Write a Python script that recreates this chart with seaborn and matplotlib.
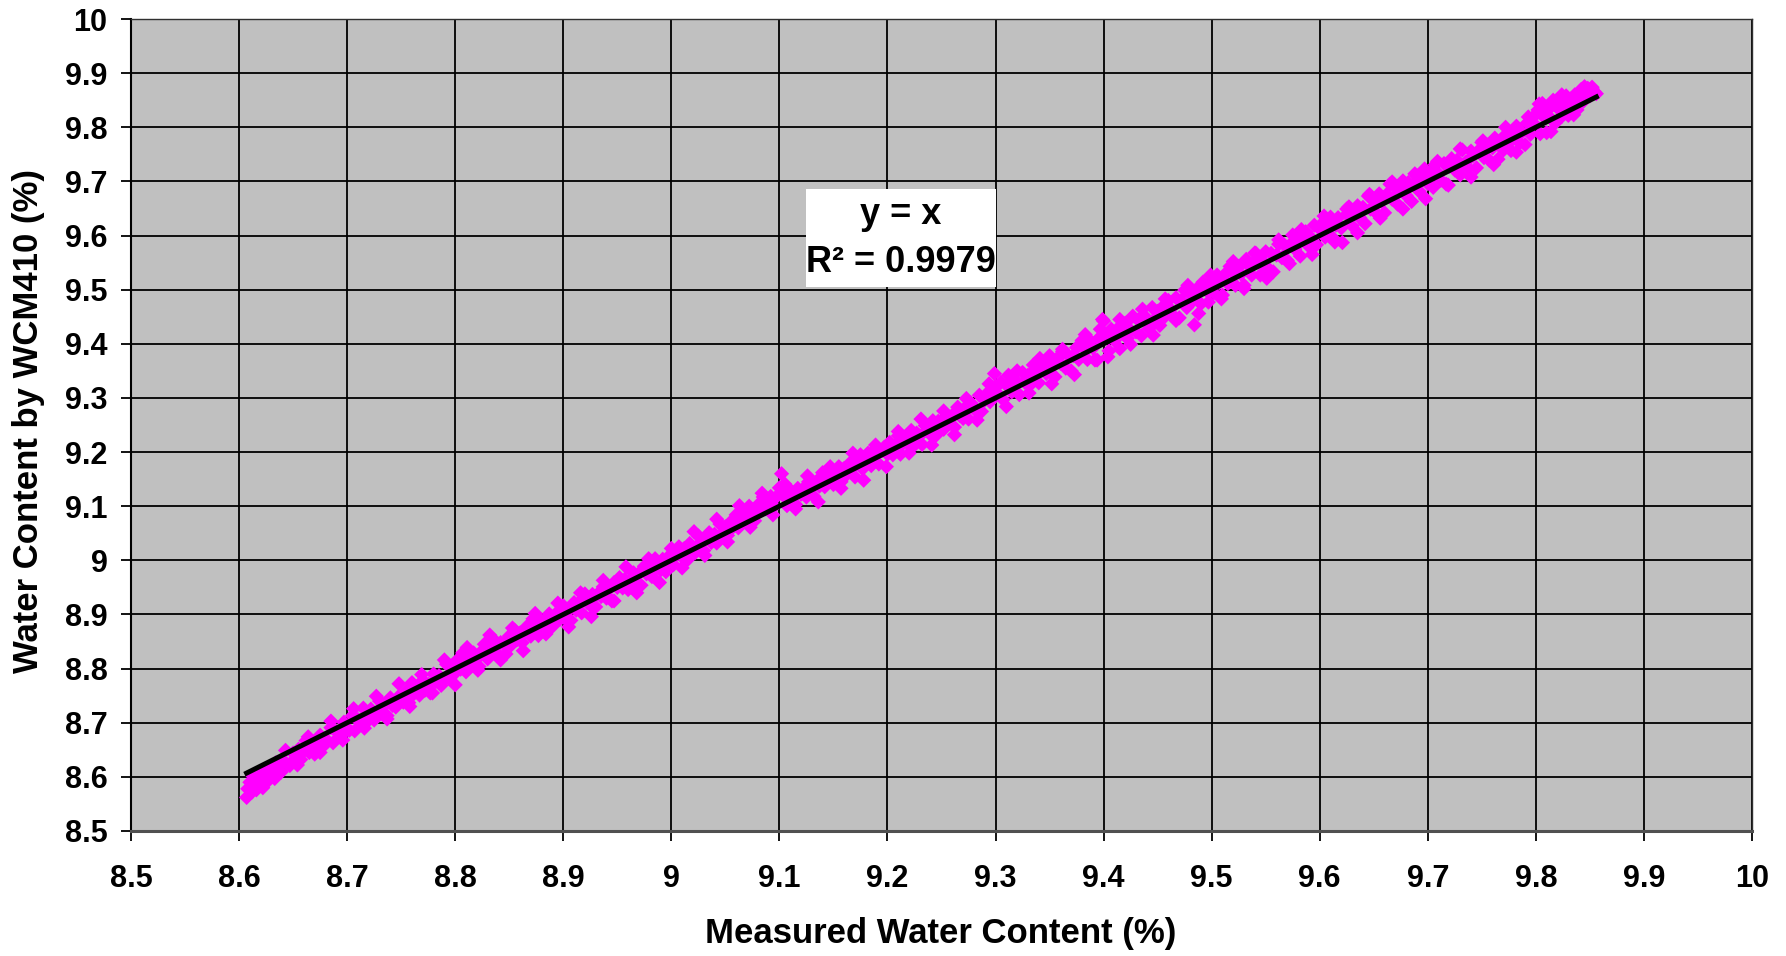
import matplotlib
matplotlib.use('Agg')
import matplotlib.pyplot as plt
import seaborn as sns
import pandas as pd
from matplotlib.patches import Rectangle

# ---- data ----
# core of the point cloud
measured = [
    8.607, 8.608, 8.610, 8.611, 8.613, 8.615, 8.616, 8.618, 8.620, 8.622, 8.624, 8.626, 8.629, 8.631, 8.634, 8.636, 8.639, 8.641, 8.644, 8.647, 8.650,
    8.652, 8.655, 8.657, 8.660, 8.662, 8.665, 8.667, 8.670, 8.672, 8.675, 8.677, 8.680, 8.682, 8.685, 8.687, 8.690, 8.692, 8.695, 8.697, 8.700,
    8.702, 8.705, 8.707, 8.710, 8.712, 8.715, 8.717, 8.720, 8.722, 8.725, 8.727, 8.730, 8.732, 8.735, 8.737, 8.740, 8.742, 8.745, 8.747, 8.750,
    8.752, 8.755, 8.757, 8.760, 8.762, 8.765, 8.767, 8.770, 8.772, 8.775, 8.777, 8.780, 8.782, 8.785, 8.787, 8.790, 8.792, 8.795, 8.797, 8.800,
    8.802, 8.805, 8.807, 8.810, 8.812, 8.815, 8.817, 8.820, 8.822, 8.825, 8.827, 8.830, 8.832, 8.835, 8.837, 8.840, 8.842, 8.845, 8.847, 8.850,
    8.852, 8.855, 8.857, 8.860, 8.862, 8.865, 8.867, 8.870, 8.872, 8.875, 8.877, 8.880, 8.882, 8.885, 8.887, 8.890, 8.892, 8.895, 8.897, 8.900,
    8.902, 8.905, 8.907, 8.910, 8.912, 8.915, 8.917, 8.920, 8.922, 8.925, 8.927, 8.930, 8.932, 8.935, 8.937, 8.940, 8.942, 8.945, 8.947, 8.950,
    8.952, 8.955, 8.957, 8.960, 8.962, 8.965, 8.967, 8.970, 8.972, 8.975, 8.977, 8.980, 8.982, 8.985, 8.987, 8.990, 8.992, 8.995, 8.997, 9.000,
    9.002, 9.005, 9.007, 9.010, 9.012, 9.015, 9.017, 9.020, 9.022, 9.025, 9.027, 9.030, 9.032, 9.035, 9.037, 9.040, 9.042, 9.045, 9.047, 9.050,
    9.052, 9.055, 9.057, 9.060, 9.062, 9.065, 9.067, 9.070, 9.072, 9.075, 9.077, 9.080, 9.082, 9.085, 9.087, 9.090, 9.092, 9.095, 9.097, 9.100,
    9.102, 9.105, 9.107, 9.110, 9.112, 9.115, 9.117, 9.120, 9.122, 9.125, 9.127, 9.130, 9.132, 9.135, 9.137, 9.140, 9.142, 9.145, 9.147, 9.150,
    9.152, 9.155, 9.157, 9.160, 9.162, 9.165, 9.167, 9.170, 9.172, 9.175, 9.177, 9.180, 9.182, 9.185, 9.187, 9.190, 9.192, 9.195, 9.197, 9.200,
    9.202, 9.205, 9.207, 9.210, 9.212, 9.215, 9.217, 9.220, 9.222, 9.225, 9.227, 9.230, 9.232, 9.235, 9.237, 9.240, 9.242, 9.245, 9.247, 9.250,
    9.252, 9.255, 9.257, 9.260, 9.262, 9.265, 9.267, 9.270, 9.272, 9.275, 9.277, 9.280, 9.282, 9.285, 9.287, 9.290, 9.292, 9.295, 9.297, 9.300,
    9.302, 9.305, 9.307, 9.310, 9.312, 9.315, 9.317, 9.320, 9.322, 9.325, 9.327, 9.330, 9.332, 9.335, 9.337, 9.340, 9.342, 9.345, 9.347, 9.350,
    9.352, 9.355, 9.357, 9.360, 9.362, 9.365, 9.367, 9.370, 9.372, 9.375, 9.377, 9.380, 9.382, 9.385, 9.387, 9.390, 9.392, 9.395, 9.397, 9.400,
    9.402, 9.405, 9.407, 9.410, 9.412, 9.415, 9.417, 9.420, 9.422, 9.425, 9.427, 9.430, 9.432, 9.435, 9.437, 9.440, 9.442, 9.445, 9.447, 9.450,
    9.452, 9.455, 9.457, 9.460, 9.462, 9.465, 9.467, 9.470, 9.472, 9.475, 9.477, 9.480, 9.482, 9.484, 9.487, 9.490, 9.492, 9.495, 9.497, 9.500,
    9.502, 9.505, 9.507, 9.510, 9.512, 9.515, 9.517, 9.520, 9.522, 9.525, 9.527, 9.530, 9.532, 9.535, 9.537, 9.540, 9.542, 9.545, 9.547, 9.550,
    9.552, 9.555, 9.557, 9.560, 9.562, 9.565, 9.567, 9.570, 9.572, 9.575, 9.577, 9.580, 9.582, 9.585, 9.587, 9.590, 9.592, 9.595, 9.597, 9.600,
    9.602, 9.605, 9.607, 9.610, 9.612, 9.615, 9.617, 9.620, 9.621, 9.625, 9.627, 9.630, 9.632, 9.635, 9.637, 9.640, 9.642, 9.645, 9.647, 9.650,
    9.652, 9.655, 9.657, 9.660, 9.662, 9.665, 9.667, 9.670, 9.672, 9.675, 9.677, 9.680, 9.682, 9.685, 9.687, 9.690, 9.692, 9.695, 9.697, 9.700,
    9.702, 9.705, 9.707, 9.710, 9.712, 9.715, 9.717, 9.720, 9.722, 9.725, 9.727, 9.730, 9.732, 9.735, 9.737, 9.740, 9.742, 9.745, 9.747, 9.750,
    9.752, 9.755, 9.757, 9.760, 9.762, 9.765, 9.767, 9.770, 9.772, 9.775, 9.777, 9.780, 9.782, 9.785, 9.787, 9.790, 9.792, 9.795, 9.797, 9.800,
    9.802, 9.804, 9.806, 9.808, 9.810, 9.812, 9.814, 9.816, 9.818, 9.820, 9.822, 9.824, 9.826, 9.828, 9.830, 9.832, 9.834, 9.836, 9.838, 9.840,
    9.842, 9.844, 9.846, 9.848, 9.850, 9.852, 9.854, 9.856,
]

wcm410 = [
    8.562, 8.578, 8.590, 8.573, 8.601, 8.587, 8.576, 8.600, 8.588, 8.612, 8.599, 8.591, 8.614, 8.603, 8.626, 8.614, 8.609, 8.629, 8.624, 8.621, 8.644,
    8.634, 8.651, 8.632, 8.648, 8.667, 8.645, 8.659, 8.642, 8.658, 8.677, 8.655, 8.670, 8.666, 8.691, 8.663, 8.684, 8.680, 8.677, 8.701, 8.690,
    8.686, 8.713, 8.685, 8.706, 8.700, 8.727, 8.699, 8.712, 8.725, 8.705, 8.717, 8.740, 8.718, 8.733, 8.713, 8.746, 8.732, 8.729, 8.747, 8.744,
    8.738, 8.759, 8.737, 8.774, 8.754, 8.763, 8.751, 8.778, 8.760, 8.771, 8.755, 8.790, 8.776, 8.787, 8.769, 8.780, 8.808, 8.781, 8.801, 8.792,
    8.816, 8.799, 8.829, 8.794, 8.816, 8.805, 8.829, 8.818, 8.804, 8.833, 8.845, 8.818, 8.834, 8.829, 8.851, 8.826, 8.848, 8.845, 8.827, 8.860,
    8.844, 8.871, 8.853, 8.866, 8.848, 8.867, 8.879, 8.860, 8.892, 8.873, 8.861, 8.888, 8.886, 8.877, 8.901, 8.878, 8.892, 8.905, 8.891, 8.916,
    8.892, 8.909, 8.889, 8.922, 8.908, 8.923, 8.903, 8.938, 8.922, 8.917, 8.937, 8.914, 8.938, 8.933, 8.951, 8.930, 8.946, 8.925, 8.959, 8.950,
    8.968, 8.949, 8.965, 8.946, 8.964, 8.977, 8.957, 8.976, 8.954, 8.989, 8.975, 8.988, 8.970, 9.003, 8.987, 8.982, 9.002, 8.979, 9.001, 9.012,
    8.992, 9.011, 9.025, 9.006, 9.022, 9.001, 9.031, 9.022, 9.014, 9.045, 9.033, 9.018, 9.042, 9.051, 9.033, 9.048, 9.032, 9.067, 9.049, 9.062,
    9.046, 9.071, 9.061, 9.084, 9.060, 9.077, 9.087, 9.076, 9.100, 9.085, 9.073, 9.102, 9.096, 9.117, 9.095, 9.108, 9.118, 9.099, 9.117, 9.134,
    9.160, 9.117, 9.101, 9.130, 9.116, 9.103, 9.133, 9.122, 9.132, 9.117, 9.145, 9.136, 9.118, 9.147, 9.137, 9.162, 9.136, 9.153, 9.161, 9.140,
    9.156, 9.173, 9.145, 9.170, 9.158, 9.179, 9.169, 9.154, 9.184, 9.195, 9.169, 9.186, 9.198, 9.175, 9.189, 9.208, 9.178, 9.203, 9.209, 9.196,
    9.218, 9.195, 9.213, 9.230, 9.196, 9.217, 9.229, 9.214, 9.240, 9.213, 9.235, 9.230, 9.214, 9.249, 9.241, 9.232, 9.258, 9.231, 9.257, 9.252,
    9.242, 9.267, 9.253, 9.268, 9.246, 9.283, 9.267, 9.262, 9.282, 9.261, 9.291, 9.284, 9.276, 9.305, 9.275, 9.296, 9.308, 9.293, 9.307, 9.322,
    9.308, 9.329, 9.297, 9.324, 9.342, 9.311, 9.335, 9.328, 9.306, 9.347, 9.329, 9.342, 9.324, 9.361, 9.353, 9.328, 9.352, 9.365, 9.345, 9.378,
    9.360, 9.339, 9.373, 9.364, 9.386, 9.355, 9.379, 9.350, 9.378, 9.393, 9.371, 9.406, 9.392, 9.371, 9.407, 9.392, 9.370, 9.409, 9.427, 9.442,
    9.412, 9.387, 9.427, 9.406, 9.426, 9.391, 9.423, 9.438, 9.410, 9.425, 9.451, 9.422, 9.444, 9.415, 9.453, 9.444, 9.428, 9.467, 9.445, 9.460,
    9.434, 9.469, 9.451, 9.480, 9.464, 9.451, 9.485, 9.448, 9.480, 9.499, 9.467, 9.492, 9.478, 9.435, 9.503, 9.474, 9.514, 9.499, 9.477, 9.514,
    9.494, 9.527, 9.513, 9.490, 9.528, 9.511, 9.543, 9.530, 9.508, 9.543, 9.529, 9.508, 9.556, 9.543, 9.527, 9.568, 9.556, 9.527, 9.553, 9.570,
    9.540, 9.567, 9.533, 9.564, 9.584, 9.559, 9.583, 9.554, 9.582, 9.601, 9.575, 9.594, 9.562, 9.593, 9.607, 9.580, 9.596, 9.619, 9.583, 9.612,
    9.622, 9.597, 9.617, 9.634, 9.596, 9.619, 9.633, 9.614, 9.587, 9.639, 9.653, 9.618, 9.640, 9.655, 9.633, 9.652, 9.622, 9.673, 9.649, 9.666,
    9.642, 9.677, 9.663, 9.642, 9.676, 9.695, 9.667, 9.688, 9.658, 9.685, 9.701, 9.674, 9.698, 9.663, 9.695, 9.710, 9.682, 9.707, 9.723, 9.696,
    9.716, 9.689, 9.731, 9.714, 9.702, 9.733, 9.695, 9.728, 9.742, 9.721, 9.739, 9.712, 9.758, 9.735, 9.725, 9.756, 9.748, 9.725, 9.757, 9.772,
    9.744, 9.767, 9.739, 9.762, 9.780, 9.741, 9.775, 9.758, 9.786, 9.771, 9.757, 9.790, 9.802, 9.771, 9.791, 9.768, 9.808, 9.787, 9.809, 9.824,
    9.832, 9.788, 9.844, 9.818, 9.790, 9.834, 9.816, 9.850, 9.808, 9.836, 9.848, 9.820, 9.838, 9.858, 9.822, 9.852, 9.840, 9.860, 9.832, 9.854,
    9.870, 9.848, 9.864, 9.872, 9.858, 9.872, 9.866, 9.862,
]

# points on the outer edges of the cloud
measured_edge = [
    8.612, 8.622, 8.633, 8.643, 8.654, 8.664, 8.675, 8.685, 8.696, 8.706,
    8.716, 8.727, 8.737, 8.748, 8.758, 8.769, 8.779, 8.790, 8.800, 8.811,
    8.821, 8.832, 8.842, 8.853, 8.863, 8.874, 8.884, 8.895, 8.905, 8.916,
    8.926, 8.937, 8.947, 8.958, 8.968, 8.979, 8.989, 9.000, 9.010, 9.021,
    9.031, 9.042, 9.052, 9.063, 9.073, 9.084, 9.094, 9.105, 9.115, 9.126,
    9.136, 9.147, 9.157, 9.168, 9.178, 9.189, 9.199, 9.210, 9.220, 9.231,
    9.241, 9.252, 9.262, 9.273, 9.283, 9.294, 9.299, 9.310, 9.320, 9.331,
    9.341, 9.352, 9.362, 9.373, 9.383, 9.394, 9.399, 9.404, 9.415, 9.425,
    9.436, 9.446, 9.457, 9.467, 9.478, 9.488, 9.499, 9.509, 9.520, 9.530,
    9.541, 9.551, 9.562, 9.572, 9.583, 9.593, 9.604, 9.614, 9.625, 9.635,
    9.646, 9.656, 9.667, 9.677, 9.688, 9.698, 9.709, 9.719, 9.730, 9.740,
    9.751, 9.761, 9.772, 9.782, 9.793, 9.803, 9.814, 9.824, 9.835, 9.845, 9.852,
]
wcm410_edge = [
    8.572, 8.580, 8.597, 8.649, 8.622, 8.674, 8.645, 8.703, 8.668, 8.726,
    8.690, 8.749, 8.707, 8.772, 8.730, 8.789, 8.755, 8.816, 8.770, 8.839,
    8.797, 8.862, 8.816, 8.875, 8.833, 8.902, 8.864, 8.921, 8.877, 8.940,
    8.896, 8.963, 8.925, 8.988, 8.940, 9.003, 8.959, 9.022, 8.986, 9.053,
    9.009, 9.076, 9.034, 9.101, 9.061, 9.124, 9.084, 9.141, 9.095, 9.156,
    9.108, 9.173, 9.133, 9.198, 9.148, 9.213, 9.173, 9.238, 9.198, 9.261,
    9.213, 9.276, 9.232, 9.299, 9.259, 9.326, 9.345, 9.284, 9.350, 9.309,
    9.373, 9.326, 9.390, 9.343, 9.417, 9.370, 9.445, 9.376, 9.445, 9.399,
    9.464, 9.416, 9.483, 9.443, 9.508, 9.456, 9.527, 9.483, 9.552, 9.502,
    9.567, 9.521, 9.592, 9.548, 9.611, 9.565, 9.636, 9.588, 9.649, 9.605,
    9.676, 9.632, 9.699, 9.649, 9.714, 9.668, 9.737, 9.693, 9.760, 9.708,
    9.775, 9.731, 9.800, 9.754, 9.819, 9.843, 9.792, 9.860, 9.823, 9.875, 9.874,
]

tick_values = [8.5, 8.6, 8.7, 8.8, 8.9, 9.0, 9.1, 9.2, 9.3, 9.4, 9.5, 9.6, 9.7, 9.8, 9.9, 10.0]
tick_labels = ['8.5', '8.6', '8.7', '8.8', '8.9', '9', '9.1', '9.2', '9.3', '9.4',
               '9.5', '9.6', '9.7', '9.8', '9.9', '10']
x_title = 'Measured Water Content (%)'
y_title = 'Water Content by WCM410 (%)'
eq_text = 'y = x'
r2_text = 'R\u00b2 = 0.9979'

assert len(measured) == len(wcm410)
assert len(measured_edge) == len(wcm410_edge)

# ---- styling ----
plt.rcParams['font.family'] = ['Liberation Sans', 'DejaVu Sans']
plt.rcParams['font.weight'] = 'bold'

W, H = 1786, 956
fig = plt.figure(figsize=(W / 100, H / 100), dpi=100)
fig.patch.set_facecolor('white')
ax = fig.add_axes([131 / W, (H - 831) / H, 1621 / W, 812 / H])
ax.set_facecolor('#C0C0C0')

df = pd.DataFrame({'measured': measured + measured_edge,
                   'wcm410': wcm410 + wcm410_edge})
sns.scatterplot(data=df, x='measured', y='wcm410', marker='D', s=60,
                color='#FF00FF', edgecolor='none', linewidth=0, ax=ax, zorder=3)

# trend line y = x across the data range
lo, hi = min(measured), max(measured)
line_df = pd.DataFrame({'x': [lo, hi], 'y': [lo, hi]})
sns.lineplot(data=line_df, x='x', y='y', color='black', linewidth=3.6, ax=ax, zorder=4)

ax.set_xlim(8.5, 10)
ax.set_ylim(8.5, 10)
ax.set_xticks(tick_values)
ax.set_xticklabels(tick_labels)
ax.set_yticks(tick_values)
ax.set_yticklabels(tick_labels)
ax.grid(True, color='black', linewidth=1.3)
ax.set_axisbelow(True)

for side in ['top', 'right']:
    ax.spines[side].set_color('#303030')
    ax.spines[side].set_linewidth(1.0)
ax.spines['left'].set_color('black')
ax.spines['left'].set_linewidth(1.5)
ax.spines['bottom'].set_color('#505050')
ax.spines['bottom'].set_linewidth(2.2)

ax.tick_params(axis='x', direction='out', length=7, width=1.3, pad=17,
               labelsize=22, colors='black')
ax.tick_params(axis='y', direction='out', length=7, width=1.3, pad=10,
               labelsize=22, colors='black')
for lab in ax.get_xticklabels() + ax.get_yticklabels():
    lab.set_fontweight('bold')

ax.set_xlabel(x_title, fontsize=25, fontweight='bold')
ax.set_ylabel(y_title, fontsize=25, fontweight='bold', va='center')
ax.xaxis.set_label_coords(0.4995, -0.106)
ax.yaxis.set_label_coords(-0.063, 0.505)

# equation box
bx0, bx1 = (806 - 131) / 1621, (996 - 131) / 1621
by0, by1 = (831 - 287) / 812, (831 - 189) / 812
ax.add_patch(Rectangle((bx0, by0), bx1 - bx0, by1 - by0, transform=ax.transAxes,
                       facecolor='white', edgecolor='none', zorder=5))
cx = (bx0 + bx1) / 2
ax.text(cx, (831 - 215) / 812, eq_text, transform=ax.transAxes, ha='center', va='center',
        fontsize=26, fontweight='bold', zorder=6)
ax.text(cx, (831 - 263) / 812, r2_text, transform=ax.transAxes, ha='center', va='center',
        fontsize=26, fontweight='bold', zorder=6)

fig.savefig('out.png', dpi=100, facecolor='white')
